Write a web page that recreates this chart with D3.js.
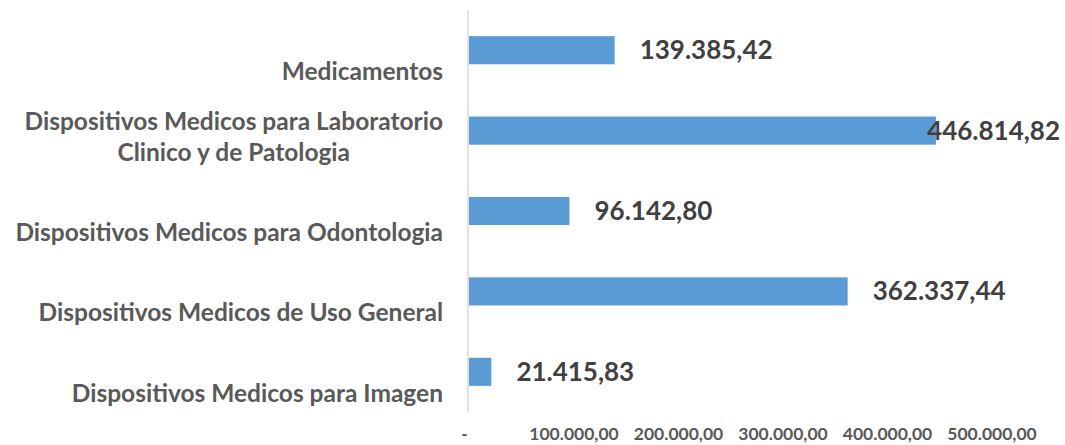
<!DOCTYPE html>
<html>
<head>
<meta charset="utf-8">
<script src="https://cdn.jsdelivr.net/npm/d3@7"></script>
<style>
    body { margin: 0; background: #fff; }
    text { font-family: Lato, 'Open Sans', sans-serif; font-weight: bold; }
</style>
</head>
<body>
<script>
// data
const categories = [
    ['Medicamentos'],
    ['Dispositivos Medicos para Laboratorio', 'Clinico y de Patologia'],
    ['Dispositivos Medicos para Odontologia'],
    ['Dispositivos Medicos de Uso General'],
    ['Dispositivos Medicos para Imagen']
]
const values = [139385.42, 446814.82, 96142.80, 362337.44, 21415.83]
const tickValues = [0, 100000, 200000, 300000, 400000, 500000]

// size of svg
const w = 1065
const h = 445

// number format like 1.234,56
const locale = d3.formatLocale({ decimal: ',', thousands: '.', grouping: [3], currency: ['', ''] })
const fmt = locale.format(',.2f')

const svg = d3.select('body')
    .append('svg')
    .attr('width', w)
    .attr('height', h)

// x scale
const xScale = d3.scaleLinear()
    .domain([0, 500000])
    .range([469, 991.5])

// y scale, one band per category
const yScale = d3.scaleBand()
    .domain(d3.range(categories.length))
    .range([10, 412])
    .paddingInner(0.65)
    .paddingOuter(0.325)

// bars
svg.selectAll('rect.bar')
    .data(values)
    .enter()
    .append('rect')
    .attr('class', 'bar')
    .attr('x', xScale(0))
    .attr('y', (d, i) => yScale(i))
    .attr('width', d => xScale(d) - xScale(0))
    .attr('height', yScale.bandwidth())
    .attr('fill', '#5b9bd5')

// vertical axis line
svg.append('line')
    .attr('x1', 468).attr('x2', 468)
    .attr('y1', 10).attr('y2', 412)
    .attr('stroke', '#d9d9d9')
    .attr('stroke-width', 1.5)

// category labels, last line sits a bit below the bar
const lineH = 31
categories.forEach((lines, i) => {
    const mid = yScale(i) + yScale.bandwidth() / 2
    const t = svg.append('text')
        .attr('fill', '#595959')
        .attr('font-size', 24.5)
        .attr('text-anchor', 'middle')
    lines.forEach((s, j) => {
        t.append('tspan')
            .attr('x', 0)
            .attr('y', mid + 30 - (lines.length - 1 - j) * lineH)
            .text(s)
    })
    // right align the block, center lines to each other
    const bw = t.node().getBBox().width
    t.selectAll('tspan').attr('x', 443 - bw / 2)
})

// value labels
svg.selectAll('text.val')
    .data(values)
    .enter()
    .append('text')
    .attr('class', 'val')
    .attr('fill', '#404040')
    .attr('font-size', 26)
    .attr('y', (d, i) => yScale(i) + yScale.bandwidth() / 2 + 9)
    .text(d => fmt(d))
    .attr('x', function (d) {
        const tw = this.getComputedTextLength()
        return Math.min(xScale(d) + 25, 1060 - tw)
    })

// x axis tick labels
const xAxis = d3.axisBottom(xScale)
    .tickValues(tickValues)
    .tickSize(0)
    .tickPadding(0)
    .tickFormat(d => d === 0 ? '-' : fmt(d))

const gx = svg.append('g')
    .attr('transform', 'translate(0,428)')
    .call(xAxis)
gx.select('.domain').remove()
gx.selectAll('text')
    .attr('fill', '#595959')
    .attr('font-size', 17.5)
    .attr('font-family', 'Lato, sans-serif')
    .attr('font-weight', 'bold')
    .attr('dx', d => d === 0 ? -5 : 0)
</script>
</body>
</html>
